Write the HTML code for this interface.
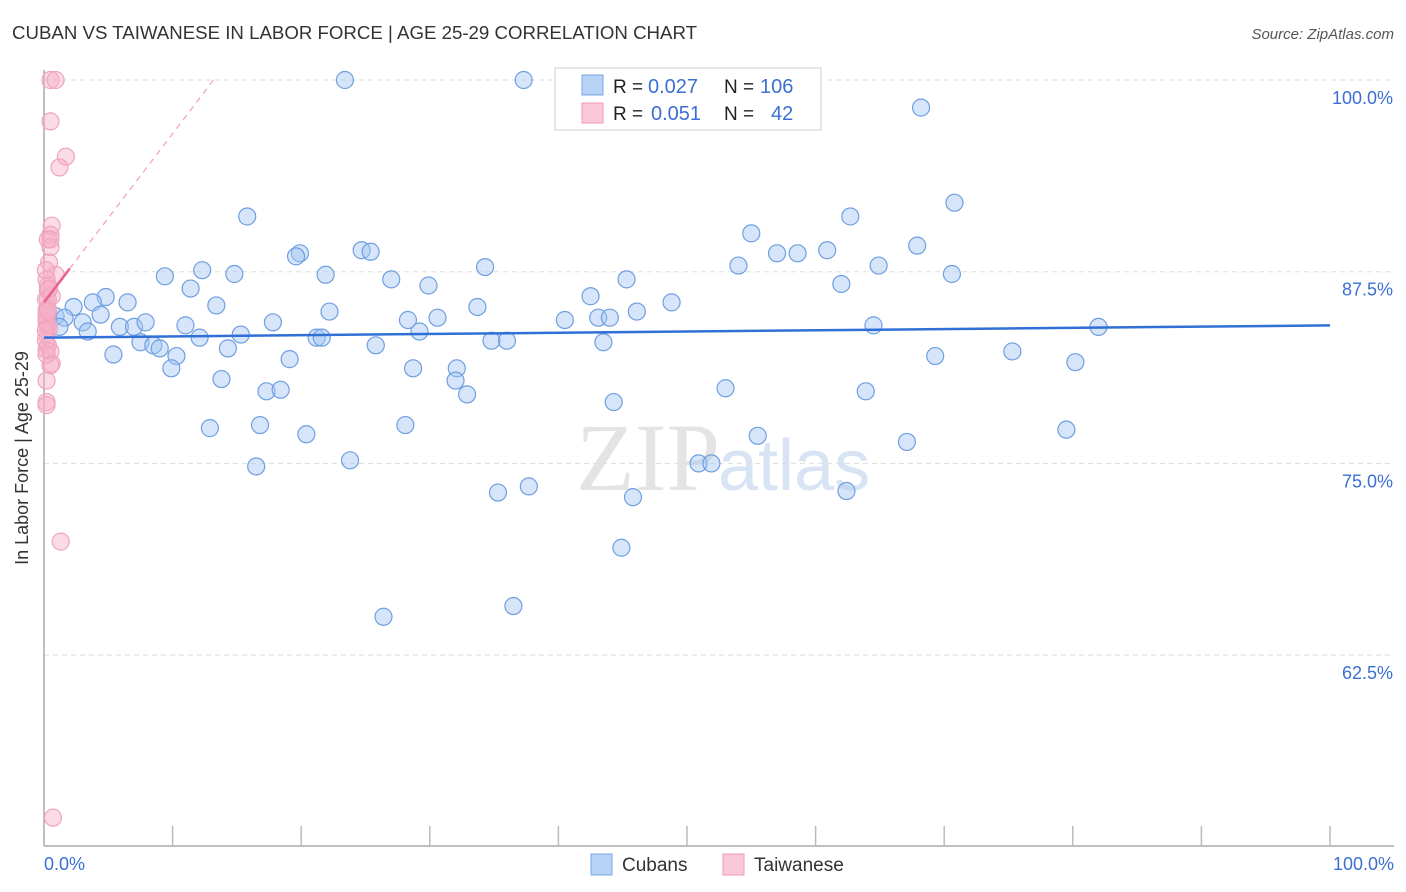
<!DOCTYPE html>
<html><head><meta charset="utf-8">
<style>
body{margin:0;background:#fff;font-family:"Liberation Sans",sans-serif;}
svg{display:block}
</style></head>
<body>
<svg width="1406" height="892" viewBox="0 0 1406 892" xmlns="http://www.w3.org/2000/svg">
<text x="12" y="39" font-size="18" fill="#333" textLength="685" lengthAdjust="spacingAndGlyphs">CUBAN VS TAIWANESE IN LABOR FORCE | AGE 25-29 CORRELATION CHART</text>
<text x="1394" y="39" font-size="15" fill="#555" text-anchor="end" font-style="italic">Source: ZipAtlas.com</text>
<text x="720" y="490" font-size="96" fill="#e4e4e4" text-anchor="end" font-family="Liberation Serif">ZIP</text>
<text x="718" y="490" font-size="72" fill="#d8e4f4">atlas</text>
<g id="grid"></g>
<line x1="44" y1="70" x2="44" y2="846" stroke="#aaa" stroke-width="1.5"/>
<line x1="44" y1="846" x2="1394" y2="846" stroke="#aaa" stroke-width="1.5"/>
<g id="xticks"></g>
<text x="28" y="458" font-size="18" fill="#333" text-anchor="middle" transform="rotate(-90 28 458)">In Labor Force | Age 25-29</text>
<text x="44" y="870" font-size="18" fill="#3b6fd4">0.0%</text>
<text x="1394" y="870" font-size="18" fill="#3b6fd4" text-anchor="end">100.0%</text>
<g id="pts"></g>
<g id="lines"></g>
<g>
<rect x="555" y="68" width="266" height="62" fill="#fff" stroke="#ccc"/>
<rect x="582" y="75" width="21" height="20" fill="#b8d3f5" stroke="#7aa6e6"/>
<rect x="582" y="103" width="21" height="20" fill="#fac8d8" stroke="#ee9ab8"/>
<text x="613" y="93" font-size="19" fill="#222">R = </text><text x="648" y="93" font-size="20" fill="#3b6fd4">0.027</text>
<text x="724" y="93" font-size="19" fill="#222">N = </text><text x="760" y="93" font-size="20" fill="#3b6fd4">106</text>
<text x="613" y="120" font-size="19" fill="#222">R = </text><text x="651" y="120" font-size="20" fill="#3b6fd4">0.051</text>
<text x="724" y="120" font-size="19" fill="#222">N = </text><text x="771" y="120" font-size="20" fill="#3b6fd4">42</text>
</g>
<g>
<rect x="591" y="854" width="21" height="21" fill="#b8d3f5" stroke="#7aa6e6"/>
<text x="622" y="871" font-size="19" fill="#333">Cubans</text></g>
<g>
<rect x="723" y="854" width="21" height="21" fill="#fac8d8" stroke="#ee9ab8"/>
<text x="754" y="871" font-size="19" fill="#333">Taiwanese</text></g>
</svg>
<script>
const yTicks=[100,87.5,75,62.5];
const yTickLabels=["100.0%","87.5%","75.0%","62.5%"];
const cubanX=[23.4,37.3,68.2,70.8,15.8,62.7,55.0,24.7,25.4,19.9,19.6,67.9,57.0,58.6,60.9,34.3,12.3,14.8,21.9,27.0,9.4,54.0,64.9,70.6,45.3,29.9,62.0,11.4,42.5,4.8,3.8,6.5,2.3,13.4,33.7,48.8,22.2,4.4,0.9,1.6,3.0,1.2,3.4,5.9,7.0,7.9,11.0,17.8,28.3,30.6,40.5,43.1,44.0,46.1,64.5,82.0,29.2,15.3,12.1,21.2,21.6,34.8,36.0,7.5,8.5,9.0,14.3,25.8,43.5,5.4,10.3,19.1,69.3,75.3,80.2,9.9,28.7,32.1,13.8,32.0,32.9,17.3,18.4,53.0,63.9,44.3,12.9,16.8,28.1,20.4,55.5,67.1,79.5,23.8,16.5,50.9,51.9,35.3,37.7,45.8,62.4,44.9,36.5,26.4];
const cubanY=[100,100,98.2,92.0,91.1,91.1,90.0,88.9,88.8,88.7,88.5,89.2,88.7,88.7,88.9,87.8,87.6,87.35,87.3,87.0,87.2,87.9,87.9,87.35,87.0,86.6,86.7,86.4,85.9,85.85,85.5,85.5,85.2,85.3,85.2,85.5,84.9,84.7,84.6,84.5,84.2,83.9,83.6,83.9,83.9,84.2,84.0,84.2,84.35,84.5,84.35,84.5,84.5,84.9,84.0,83.9,83.6,83.4,83.2,83.2,83.2,83.0,83.0,82.9,82.7,82.5,82.5,82.7,82.9,82.1,82.0,81.8,82.0,82.3,81.6,81.2,81.2,81.2,80.5,80.4,79.5,79.7,79.8,79.9,79.7,79.0,77.3,77.5,77.5,76.9,76.8,76.4,77.2,75.2,74.8,75.0,75.0,73.1,73.5,72.8,73.2,69.5,65.7,65.0];
const taiX=[0.5,0.9,0.5,1.7,1.2,0.6,0.5,0.3,0.5,0.9,0.2,0.3,0.15,0.2,0.2,0.3,0.2,0.3,0.2,0.5,0.6,0.2,0.2,0.2,1.3,0.7,0.3,0.4,0.15,0.2,0.4,0.15,0.3,0.6,0.5,0.3,0.2,0.15,0.2,0.5,0.4,0.3];
const taiY=[100,100,97.3,95.0,94.3,90.5,89.9,89.6,89.1,87.3,87.0,86.3,85.7,85.0,84.5,84.0,83.4,82.7,82.4,82.3,81.5,80.4,79.0,78.8,69.9,51.9,86.6,88.1,87.6,84.7,83.8,83.0,85.7,85.9,89.6,85.1,84.2,83.7,82.1,81.4,86.4,84.9];
const cubanTrend=[83.2,84.0];
const taiTrend=[85.5,1.1];
const NS="http://www.w3.org/2000/svg";
const sx=v=>44+v*12.86, sy=v=>80+(100-v)*15.336;
function mk(t,a,p){const e=document.createElementNS(NS,t);for(const k in a)e.setAttribute(k,a[k]);p.appendChild(e);return e;}
const grid=document.getElementById('grid');
yTicks.forEach((t,i)=>{
 const l=mk('line',{x1:44,x2:1394,y1:sy(t),y2:sy(t),stroke:'#ddd','stroke-dasharray':'5,4'},grid);
 
 
 const tx=mk('text',{x:1393,y:sy(t)+24,'font-size':18,fill:'#3b6fd4','text-anchor':'end'},grid);
 tx.textContent=yTickLabels[i];
 
 
});
const xt=document.getElementById('xticks');
for(let i=1;i<=10;i++){const l=mk('line',{x1:sx(i*10),x2:sx(i*10),y1:826,y2:846,stroke:'#bbb','stroke-width':1.5},xt);
 
 }
const pts=document.getElementById('pts');
cubanX.forEach((x,i)=>{const c=mk('circle',{cx:sx(x),cy:sy(cubanY[i]),r:8.5,fill:'rgba(164,198,242,0.45)',stroke:'#6f9fe0','stroke-width':1.2},pts);
 
 });
taiX.forEach((x,i)=>{const c=mk('circle',{cx:sx(x),cy:sy(taiY[i]),r:8.5,fill:'rgba(246,176,200,0.45)',stroke:'#f0a4c0','stroke-width':1.2},pts);
 
 });
const ln=document.getElementById('lines');
const bl=mk('line',{x1:sx(0),y1:sy(cubanTrend[0]),x2:sx(100),y2:sy(cubanTrend[1]),stroke:'#2f6fd6','stroke-width':2.5},ln);


const xEnd=(100-taiTrend[0])/taiTrend[1];
const pd=mk('line',{x1:sx(2),y1:sy(taiTrend[0]+2*taiTrend[1]),x2:sx(xEnd),y2:sy(100),stroke:'#f0a0bc','stroke-width':1.2,'stroke-dasharray':'6,5'},ln);


const ps=mk('line',{x1:sx(0),y1:sy(taiTrend[0]),x2:sx(2),y2:sy(taiTrend[0]+2*taiTrend[1]),stroke:'#e8608e','stroke-width':2.5},ln);


</script>
</body></html>
